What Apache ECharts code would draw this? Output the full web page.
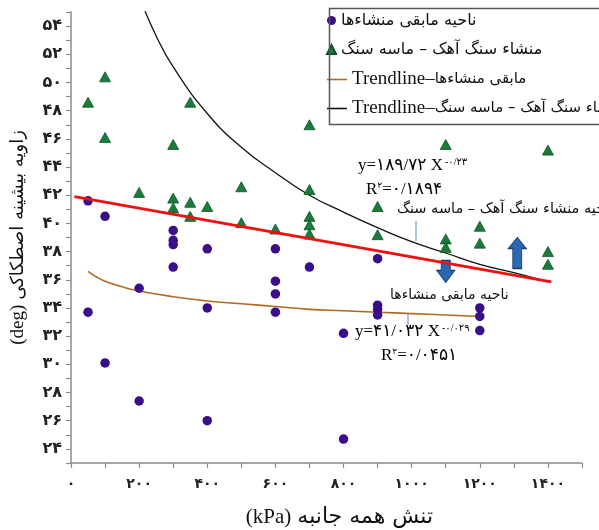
<!DOCTYPE html>
<html>
<head>
<meta charset="utf-8">
<script src="https://cdn.jsdelivr.net/npm/echarts@6/dist/echarts.min.js"></script>
<style>
html,body{margin:0;padding:0;background:#fff;}
#c{width:599px;height:530px;}
</style>
</head>
<body>
<div id="c"></div>
<script>
// ---- data ----
const nameOther = 'ناحیه مابقی منشاءها';
const nameLime = 'منشاء سنگ آهک – ماسه سنگ';
const nameOtherTrend = 'مابقی منشاءها –Trendline';
const nameLimeTrend = 'منشاء سنگ آهک – ماسه سنگ –Trendline';

const otherPoints = [
  [50,41.6],[50,33.7],[100,40.5],[100,30.1],[200,35.4],[200,27.4],
  [300,39.5],[300,38.8],[300,38.5],[300,36.9],[400,38.2],[400,34.0],[400,26.0],
  [600,38.2],[600,35.9],[600,35.0],[600,33.7],[700,36.9],[800,32.2],[800,24.7],
  [900,37.5],[900,34.2],[900,33.9],[900,33.5],[1200,34.0],[1200,33.4],[1200,32.4]
];
const limePoints = [
  [50,48.6],[100,50.4],[100,46.1],[200,42.2],[300,45.6],[300,41.8],[300,41.1],
  [350,48.6],[350,41.5],[350,40.5],[400,41.2],[500,42.6],[500,40.05],[600,39.6],
  [700,47.0],[700,42.4],[700,40.5],[700,39.9],[700,39.25],[900,41.2],[900,39.2],
  [1100,45.6],[1100,38.9],[1100,38.3],[1200,39.8],[1200,38.6],[1400,45.2],[1400,38.0],[1400,37.1]
];
const limeTrend = [
  [200,56.1],[250,53.3],[300,51.1],[400,47.8],[500,45.4],[600,43.6],[700,42.0],
  [800,40.8],[900,39.7],[1000,38.7],[1100,37.9],[1200,37.1],[1300,36.5],[1400,35.85]
];
const otherTrend = [
  [50,36.6],[75,36.2],[100,35.9],[150,35.5],[200,35.2],[300,34.8],[400,34.5],[500,34.3],
  [600,34.1],[700,33.9],[800,33.8],[900,33.7],[1000,33.6],[1100,33.5],[1200,33.4]
];
const boundaryLine = [[10,41.9],[1410,35.85]];
const arrowDown = [1100, 36.6];
const arrowUp = [1310, 37.9];

const xTickLabels = [0,200,400,600,800,1000,1200,1400];
const yTickLabels = [24,26,28,30,32,34,36,38,40,42,44,46,48,50,52,54];

const faDigits = '۰۱۲۳۴۵۶۷۸۹';
const toFa = v => String(v).replace(/\d/g, d => faDigits[d]);

const serif = '"Liberation Serif","DejaVu Sans",serif';
const arabicFont = '"DejaVu Sans",sans-serif';

const chart = echarts.init(document.getElementById('c'), null, {renderer:'canvas'});

const downPath = 'path://M4.5,0 L13.5,0 L13.5,10 L18,10 L9,22 L0,10 L4.5,10 Z';
const upPath = 'path://M9,0 L18,11 L13.5,11 L13.5,31 L4.5,31 L4.5,11 L0,11 Z';

const option = {
  animation: false,
  backgroundColor: '#fff',
  grid: {left: 71, right: 17, top: 12, bottom: 67, containLabel: false, outerBoundsMode: 'none'},
  xAxis: {
    type: 'value', min: 0, max: 1500, interval: 100,
    name: '{a|(kPa)}{b|تنش همه جانبه}', nameLocation: 'middle', nameGap: 43,
    nameTextStyle: {padding: [0,0,0,26], rich: {
      a: {fontFamily: serif, fontSize: 21, color: '#111', padding: [0,6,0,0]},
      b: {fontFamily: arabicFont, fontSize: 22, color: '#111'}
    }},
    axisLine: {show: true, lineStyle: {color: '#8a8a8a', width: 1.5}},
    axisTick: {show: true, length: 5, lineStyle: {color: '#8a8a8a', width: 1.2}},
    splitLine: {show: false},
    axisLabel: {
      margin: 14, fontFamily: serif, fontSize: 14, fontWeight: 'bold', color: '#222',
      formatter: v => xTickLabels.indexOf(v) >= 0 ? toFa(v) : ''
    }
  },
  yAxis: {
    type: 'value', min: 23, max: 55, interval: 1,
    name: '{a|(deg)}{b|زاویه بیشینه اصطکاکی}', nameLocation: 'middle', nameGap: 43, nameRotate: 90,
    nameTextStyle: {rich: {
      a: {fontFamily: serif, fontSize: 19, color: '#111', padding: [0,5,0,0]},
      b: {fontFamily: arabicFont, fontSize: 18, color: '#111'}
    }},
    axisLine: {show: true, lineStyle: {color: '#8a8a8a', width: 1.5}},
    axisTick: {show: true, length: 5, lineStyle: {color: '#8a8a8a', width: 1.2}},
    splitLine: {show: false},
    axisLabel: {
      margin: 9, fontFamily: serif, fontSize: 16, fontWeight: 'bold', color: '#222',
      formatter: v => yTickLabels.indexOf(v) >= 0 ? toFa(v) : ''
    }
  },
  legend: [
    {
      data: [nameOther, nameLime], orient: 'vertical', left: 326, top: 10, padding: 0,
      itemWidth: 9, itemHeight: 9, itemGap: 8, selectedMode: false,
      textStyle: {fontFamily: arabicFont, fontSize: 16, lineHeight: 21, color: '#111'}
    },
    {
      data: [
        {name: nameOtherTrend, icon: 'rect'},
        {name: nameLimeTrend, icon: 'rect'}
      ],
      orient: 'vertical', left: 327, top: 69, padding: 0,
      itemWidth: 20, itemHeight: 1.6, itemGap: 8, selectedMode: false,
      formatter: n => '{t|Trendline–}{p|' + n.replace(' –Trendline', '') + '}',
      textStyle: {lineHeight: 21, color: '#111', rich: {
        t: {fontFamily: serif, fontSize: 19, color: '#111', lineHeight: 21},
        p: {fontFamily: arabicFont, fontSize: 15, color: '#111', lineHeight: 21}
      }}
    }
  ],
  graphic: [
    {type: 'rect', left: 327, top: 6, shape: {width: 300, height: 116},
     style: {fill: 'none', stroke: '#555', lineWidth: 1.5}, z: 10},
    {type: 'text', left: 358, top: 157, z: 20, style: {
      text: '{b|y=۱۸۹/۷۲ X}{s|-۰/۲۳}',
      rich: {b: {fontFamily: serif, fontSize: 17, color: '#111'},
             s: {fontFamily: serif, fontSize: 10, color: '#111', padding: [0,0,8,2]}}
    }},
    {type: 'text', left: 366, top: 181, z: 20, style: {
      text: '{b|R}{s|۲}{b|=۰/۱۸۹۴}',
      rich: {b: {fontFamily: serif, fontSize: 17, color: '#111'},
             s: {fontFamily: serif, fontSize: 9, color: '#111', padding: [0,0,8,0]}}
    }},
    {type: 'text', left: 397, top: 202, z: 20, style: {
      text: 'ناحیه منشاء سنگ آهک – ماسه سنگ', fontFamily: arabicFont, fontSize: 14.5, fill: '#111'
    }},
    {type: 'text', left: 390, top: 288, z: 20, style: {
      text: 'ناحیه مابقی منشاءها', fontFamily: arabicFont, fontSize: 14, fill: '#111'
    }},
    {type: 'text', left: 355, top: 323, z: 20, style: {
      text: '{b|y=۴۱/۰۳۲ X}{s|-۰/۰۲۹}',
      rich: {b: {fontFamily: serif, fontSize: 17, color: '#111'},
             s: {fontFamily: serif, fontSize: 10, color: '#111', padding: [0,0,8,2]}}
    }},
    {type: 'text', left: 381, top: 347, z: 20, style: {
      text: '{b|R}{s|۲}{b|=۰/۰۴۵۱}',
      rich: {b: {fontFamily: serif, fontSize: 17, color: '#111'},
             s: {fontFamily: serif, fontSize: 9, color: '#111', padding: [0,0,8,0]}}
    }},
    {type: 'line', z: 20, shape: {x1: 416, y1: 221, x2: 416, y2: 241}, style: {stroke: '#5a86c0', lineWidth: 1}},
    {type: 'line', z: 20, shape: {x1: 408, y1: 313, x2: 408, y2: 325}, style: {stroke: '#5a86c0', lineWidth: 1}}
  ],
  series: [
    {
      name: nameLimeTrend, type: 'line', data: limeTrend, smooth: true, symbol: 'none',
      lineStyle: {color: '#111', width: 1.3}, itemStyle: {color: '#111'}, z: 3, clip: true
    },
    {
      name: nameOtherTrend, type: 'line', data: otherTrend, smooth: true, symbol: 'none',
      lineStyle: {color: '#b06a22', width: 1.6}, itemStyle: {color: '#b06a22'}, z: 3
    },
    {
      name: nameLime, type: 'scatter', data: limePoints, symbol: 'triangle', symbolSize: [11, 10],
      itemStyle: {color: '#1b7c3a', borderColor: '#0d5226', borderWidth: 0.8, opacity: 1}, z: 4
    },
    {
      name: nameOther, type: 'scatter', data: otherPoints, symbol: 'circle', symbolSize: 9.5,
      itemStyle: {color: '#3a0e8a', opacity: 1}, z: 4
    },
    {
      name: 'boundary', type: 'line', data: boundaryLine, symbol: 'none',
      lineStyle: {color: '#ee1111', width: 3}, z: 5,
      markPoint: {
        symbolKeepAspect: false,
        label: {show: false},
        itemStyle: {color: '#2c68b0', borderColor: '#173e78', borderWidth: 1},
        data: [
          {coord: arrowDown, symbol: downPath, symbolSize: [18, 22]},
          {coord: arrowUp, symbol: upPath, symbolSize: [18, 31]}
        ]
      }
    }
  ]
};
chart.setOption(option);
</script>
</body>
</html>
